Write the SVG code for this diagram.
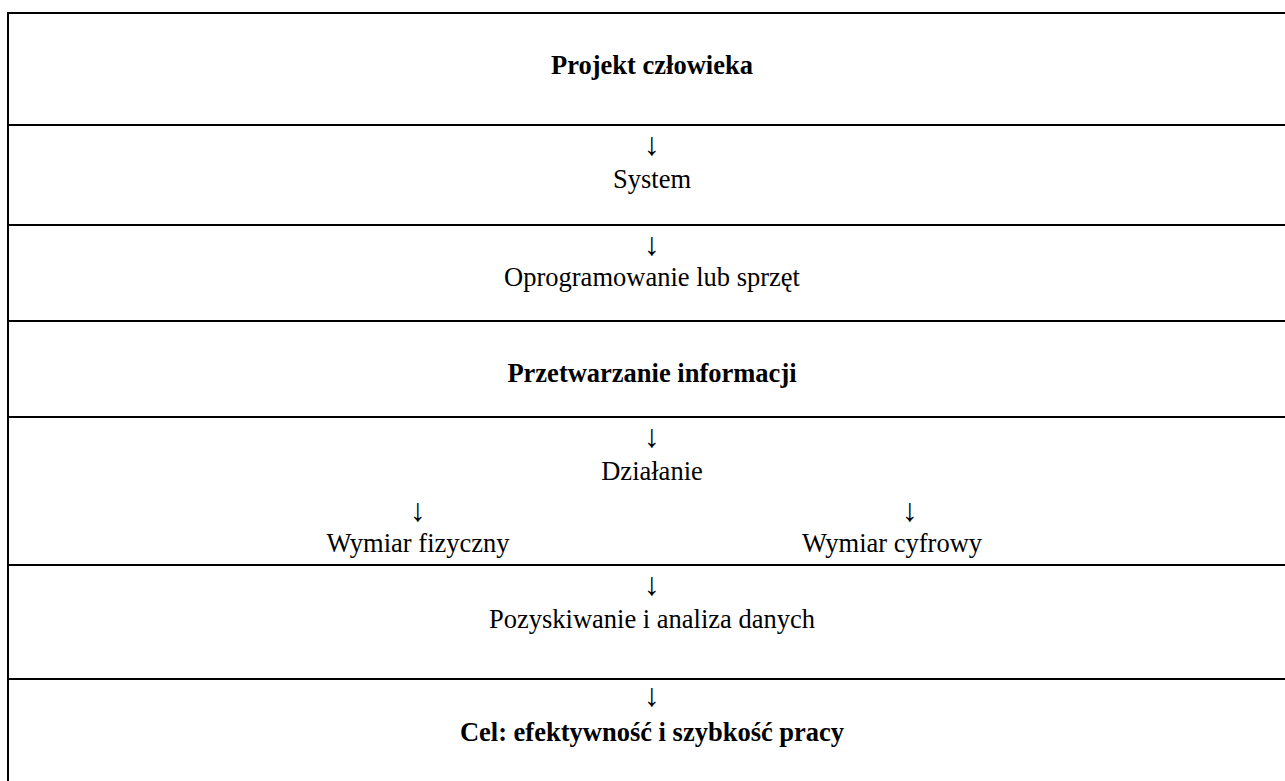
<svg xmlns="http://www.w3.org/2000/svg" width="1285" height="781" viewBox="0 0 1285 781">
<style>
.t{font-family:"Liberation Serif","Times New Roman",serif;font-size:26.5px;fill:#000;text-anchor:middle}
.b{font-weight:bold}
.a{font-family:"Liberation Serif","Times New Roman",serif;font-size:32px;fill:#000;text-anchor:middle}
.ln{stroke:#000;stroke-width:2;fill:none}
</style>
<rect width="1285" height="781" fill="#fff"/>
<g id="grid">
<line class="ln" x1="8" y1="13" x2="1285" y2="13"/>
<line class="ln" x1="8" y1="12" x2="8" y2="781"/>
<line class="ln" x1="8" y1="125" x2="1285" y2="125"/>
<line class="ln" x1="8" y1="225" x2="1285" y2="225"/>
<line class="ln" x1="8" y1="321" x2="1285" y2="321"/>
<line class="ln" x1="8" y1="417" x2="1285" y2="417"/>
<line class="ln" x1="8" y1="565" x2="1285" y2="565"/>
<line class="ln" x1="8" y1="679" x2="1285" y2="679"/>
</g>
<g id="connectors">
<text class="a" x="652" y="155">↓</text>
<text class="a" x="652" y="255">↓</text>
<text class="a" x="652" y="447">↓</text>
<text class="a" x="418" y="521">↓</text>
<text class="a" x="910" y="521">↓</text>
<text class="a" x="652" y="595">↓</text>
<text class="a" x="652" y="706">↓</text>
</g>
<g id="node-projekt"><text class="t b" x="652" y="74">Projekt człowieka</text></g>
<g id="node-system"><text class="t" x="652" y="188">System</text></g>
<g id="node-oprogramowanie"><text class="t" x="652" y="286">Oprogramowanie lub sprzęt</text></g>
<g id="node-przetwarzanie"><text class="t b" x="652" y="382">Przetwarzanie informacji</text></g>
<g id="node-dzialanie"><text class="t" x="652" y="480">Działanie</text></g>
<g id="node-fizyczny"><text class="t" x="418" y="552">Wymiar fizyczny</text></g>
<g id="node-cyfrowy"><text class="t" x="892" y="552">Wymiar cyfrowy</text></g>
<g id="node-pozyskiwanie"><text class="t" x="652" y="628">Pozyskiwanie i analiza danych</text></g>
<g id="node-cel"><text class="t b" x="652" y="741">Cel: efektywność i szybkość pracy</text></g>
</svg>
